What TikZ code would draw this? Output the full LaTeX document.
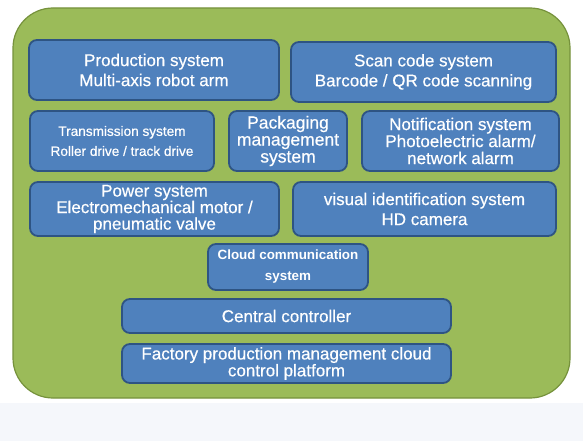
\documentclass[tikz,border=0pt]{standalone}
\usepackage{fontspec}
\setmainfont{Liberation Sans}
\newfontfamily\medfont{Liberation Sans}[UprightFeatures={FakeBold=0.5}]
\definecolor{panelgreen}{HTML}{9BBB59}
\definecolor{panelline}{HTML}{76923C}
\definecolor{boxblue}{HTML}{4F81BD}
\definecolor{boxline}{HTML}{2E5483}
\definecolor{bandgray}{HTML}{F5F7FB}
\tikzset{
  panel/.style={fill=panelgreen, draw=panelline, line width=1.2pt, rounded corners=40pt},
  sysbox/.style={fill=boxblue, draw=boxline, line width=1.8pt, rounded corners=8pt,
    inner sep=0pt, align=center, text=white, font=\medfont\fontsize{17}{20}\selectfont},
  smalltext/.style={font=\medfont\fontsize{13.6}{20}\selectfont},
  cloudtext/.style={font=\rmfamily\bfseries\fontsize{13.4}{21}\selectfont}
}
\begin{document}
\begin{tikzpicture}[x=1pt,y=-1pt]
\useasboundingbox (0,0) rectangle (583,441);
\fill[white] (0,0) rectangle (583,441);
\fill[bandgray] (0,403) rectangle (583,441);
\draw[panel] (13,8) rectangle (570,398);

\node[sysbox, minimum width=250pt, minimum height=60pt] (prod) at (154,70)
  {Production system\\Multi-axis robot arm};
\node[sysbox, minimum width=265pt, minimum height=60pt] (scan) at (423.5,72)
  {Scan code system\\Barcode / QR code scanning};
\node[sysbox, smalltext, minimum width=184pt, minimum height=60pt] (trans) at (122,141)
  {Transmission system\\Roller drive / track drive};
\node[sysbox, font=\medfont\fontsize{17.5}{17}\selectfont, minimum width=118pt, minimum height=60pt] (pack) at (288,141)
  {Packaging\\management\\system};
\node[sysbox, font=\medfont\fontsize{17}{17}\selectfont, minimum width=197pt, minimum height=60pt] (notif) at (460.5,141)
  {Notification system\\Photoelectric alarm/\\network alarm};
\node[sysbox, font=\medfont\fontsize{17}{16.5}\selectfont, minimum width=249pt, minimum height=54pt] (power) at (154.5,209)
  {Power system\\Electromechanical motor /\\pneumatic valve};
\node[sysbox, minimum width=263pt, minimum height=54pt] (visual) at (424.5,209)
  {visual identification system\\HD camera};
\node[sysbox, cloudtext, minimum width=160pt, minimum height=46pt] (cloud) at (288,267)
  {Cloud communication\\system};
\node[sysbox, minimum width=329pt, minimum height=34pt] (central) at (286.5,316)
  {Central controller};
\node[sysbox, font=\medfont\fontsize{17}{14}\selectfont, minimum width=329pt, minimum height=39pt] (factory) at (286.5,363.5)
  {Factory production management cloud\\control platform};
\end{tikzpicture}
\end{document}
